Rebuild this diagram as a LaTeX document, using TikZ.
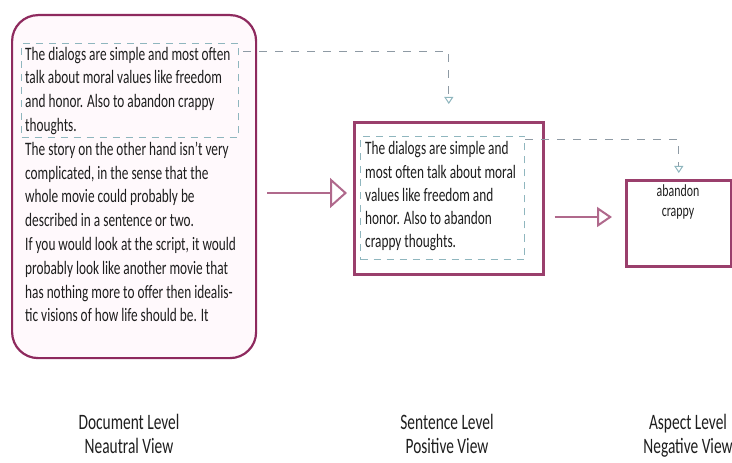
\documentclass[tikz,border=0pt]{standalone}
\usepackage{fontspec}
\setmainfont{Carlito}[FakeStretch=0.7]
\usetikzlibrary{arrows.meta}
\definecolor{boxborder}{HTML}{8E2A5E}
\definecolor{boxborderb}{HTML}{9A3F6C}
\definecolor{arrowpink}{HTML}{B0698C}
\definecolor{dashteal}{HTML}{8FB6BE}
\definecolor{dashgray}{HTML}{8E9AA4}
\definecolor{txt}{HTML}{1E1E1E}
\definecolor{pinkfill}{HTML}{FFF9FC}
\tikzset{
  bigbox/.style={draw=boxborder, line width=2.2bp, fill=pinkfill, rounded corners=26bp, anchor=north west, inner sep=0pt},
  plainbox/.style={draw=boxborderb, line width=2.6bp, fill=white, anchor=north west, inner sep=0pt},
  selbox/.style={draw=dashteal, line width=1bp, dash pattern=on 7bp off 6bp, anchor=north west, inner sep=0pt},
  bodytext/.style={text=txt, font=\fontsize{19bp}{23.8bp}\selectfont, align=left, inner sep=0pt, anchor=base west},
  lbltext/.style={text=txt, font=\fontsize{22bp}{24bp}\selectfont, align=center, inner sep=0pt, anchor=base},
  flow/.style={draw=arrowpink, line width=2bp},
  dconn/.style={draw=dashgray, line width=1bp, dash pattern=on 8bp off 8bp}
}
\begin{document}
\begin{tikzpicture}[x=1bp,y=-1bp]
\useasboundingbox (0,0) rectangle (732,463);
% boxes
\node[bigbox, minimum width=244bp, minimum height=343bp] (doc) at (11,14) {};
\node[selbox, minimum width=217bp, minimum height=94bp] (docsel) at (21,43) {};
\node[plainbox, minimum width=189bp, minimum height=152bp] (sent) at (353,121) {};
\node[selbox, minimum width=164bp, minimum height=123bp] (sentsel) at (360,136) {};
\node[plainbox, minimum width=105bp, minimum height=86bp] (asp) at (625,179) {};
% texts (anchored at the baseline of their last line)
\node[bodytext] (doctext) at (25,322) {The dialogs are simple and most often\\talk about moral values like freedom\\and honor. Also to abandon crappy\\thoughts.\\The story on the other hand isn't very\\complicated, in the sense that the\\whole movie could probably be\\described in a sentence or two.\\If you would look at the script, it would\\probably look like another movie that\\has nothing more to offer then idealis-\\tic visions of how life should be. It};
\node[bodytext, font=\fontsize{19bp}{23.3bp}\selectfont] (senttext) at (365,248) {The dialogs are simple and\\most often talk about moral\\values like freedom and\\honor. Also to abandon\\crappy thoughts.};
\node[bodytext, align=center, anchor=base, font=\fontsize{17bp}{20bp}\selectfont] (asptext) at (678,217) {abandon\\crappy};
% labels
\node[lbltext] (lbl1) at (129,453) {Document Level\\Neautral View};
\node[lbltext] (lbl2) at (447,453) {Sentence Level\\Positive View};
\node[lbltext] (lbl3) at (688,453) {Aspect Level\\Negative View};
% flow arrows
\coordinate (a1) at (0,193);
\coordinate (a2) at (0,217);
\draw[flow, -{Triangle[open, length=17bp, width=30bp, line width=2bp]}, shorten <=10bp, shorten >=6bp] (doc.east |- a1) -- (sent.west |- a1);
\draw[flow, -{Triangle[open, length=15bp, width=20bp, line width=2bp]}, shorten <=10bp, shorten >=13bp] (sent.east |- a2) -- (asp.west |- a2);
% dashed connectors
\coordinate (c1) at (0,52);
\coordinate (c2) at (0,140);
\draw[dconn, -{Triangle[open, length=7bp, width=9bp, color=dashteal]}, shorten <=4bp, shorten >=17bp] (docsel.east |- c1) -| (sent.north);
\draw[dconn, -{Triangle[open, length=7bp, width=9bp, color=dashteal]}, shorten >=6bp] (sentsel.east |- c2) -| (asp.north);
\end{tikzpicture}
\end{document}
